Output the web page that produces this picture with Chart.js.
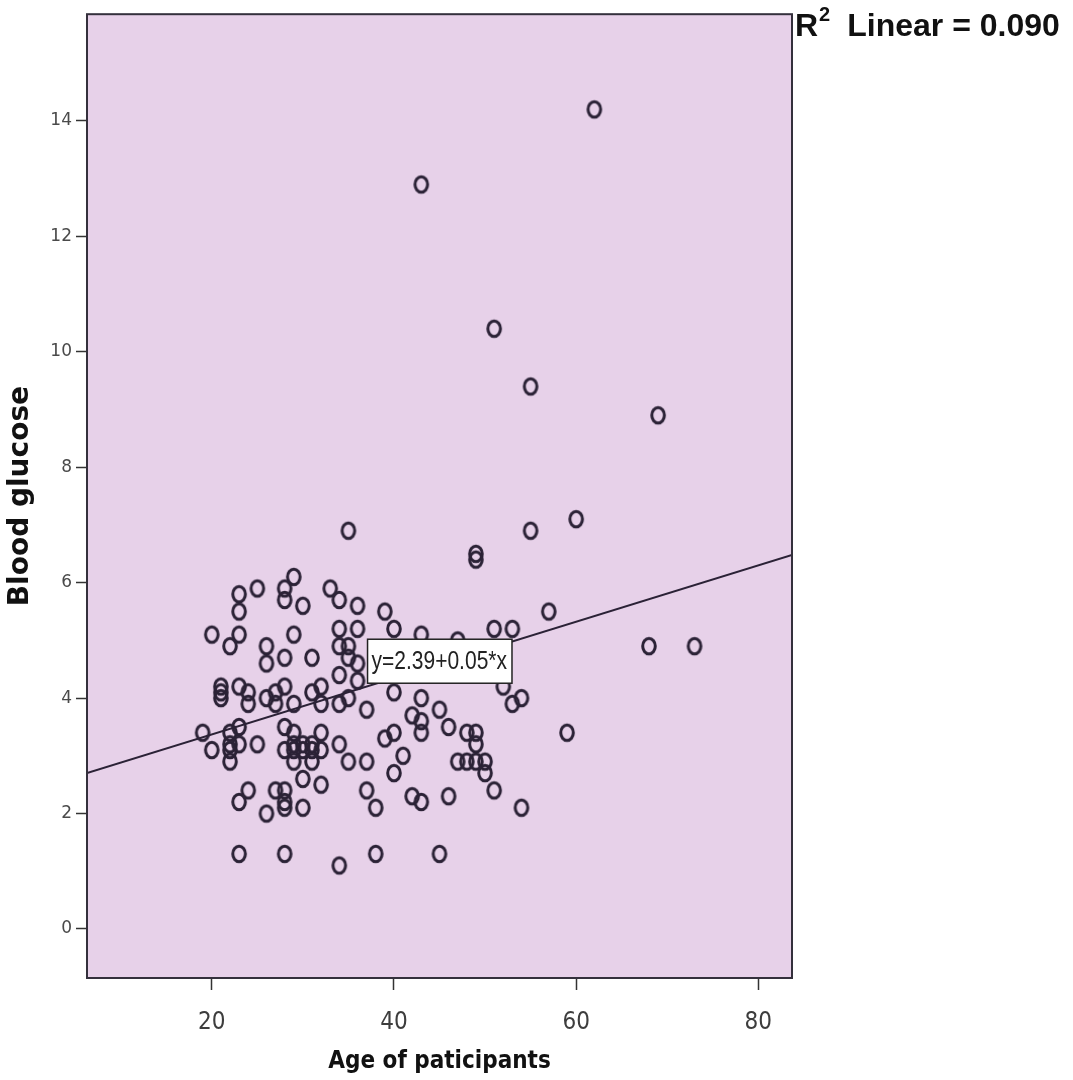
<!DOCTYPE html>
<html>
<head>
<meta charset="utf-8">
<title>Blood glucose by age</title>
<script src="https://cdn.jsdelivr.net/npm/chart.js@4.4.1/dist/chart.umd.min.js"></script>
<style>
  html, body { margin: 0; padding: 0; background: #fff; }
  #wrap { width: 1073px; height: 1080px; position: relative; }
</style>
</head>
<body>
<div id="wrap"><canvas id="scatter"></canvas></div>
<script>
// values
var ages = [
  62, 43, 51, 55, 69, 60, 35, 55, 49, 49, 57, 68, 73, 59,
  29, 28, 28, 25, 23, 23, 30, 33, 34, 36, 20, 23, 22, 29, 26, 26, 28, 31,
  34, 36, 34, 35, 35, 36, 34, 36, 39, 40, 43, 47, 51, 53, 52, 54, 53, 40,
  21, 21, 21, 23, 24, 24, 26, 27, 27, 28, 29, 31, 32, 32, 34, 35, 37,
  19, 22, 22, 22, 22, 23, 23, 20, 25, 28, 29, 28, 29, 30, 31, 29, 30, 31, 32, 32, 34,
  29, 31, 35, 37, 30, 32, 24, 23, 27, 28, 28, 28, 26, 30, 37, 38,
  23, 28, 34, 38, 45,
  45, 42, 43, 43, 39, 40, 46, 48, 49, 49, 41, 40, 47, 48, 49, 50, 50, 51, 54, 42, 43, 46, 43
];
var glucose = [
  14.2, 12.9, 10.4, 9.4, 8.9, 7.1, 6.9, 6.9, 6.5, 6.4, 5.5, 4.9, 4.9, 3.4,
  6.1, 5.9, 5.7, 5.9, 5.8, 5.5, 5.6, 5.9, 5.7, 5.6, 5.1, 5.1, 4.9, 5.1, 4.9, 4.6, 4.7, 4.7,
  5.2, 5.2, 4.9, 4.9, 4.7, 4.6, 4.4, 4.3, 5.5, 5.2, 5.1, 5.0, 5.2, 5.2, 4.2, 4.0, 3.9, 4.1,
  4.2, 4.1, 4.0, 4.2, 4.1, 3.9, 4.0, 4.1, 3.9, 4.2, 3.9, 4.1, 4.2, 3.9, 3.9, 4.0, 3.8,
  3.4, 3.4, 3.2, 3.1, 2.9, 3.5, 3.2, 3.1, 3.2, 3.5, 3.4, 3.1, 3.2, 3.2, 3.2, 3.1, 3.1, 3.1, 3.1, 3.4, 3.2,
  2.9, 2.9, 2.9, 2.9, 2.6, 2.5, 2.4, 2.2, 2.4, 2.4, 2.2, 2.1, 2.0, 2.1, 2.4, 2.1,
  1.3, 1.3, 1.1, 1.3, 1.3,
  3.8, 3.7, 3.6, 3.4, 3.3, 3.4, 3.5, 3.4, 3.4, 3.2, 3.0, 2.7, 2.9, 2.9, 2.9, 2.9, 2.7, 2.4, 2.1, 2.3, 2.2, 2.3, 4.0
];

// fit line, ends read where it meets the frame
var fitAges = [6.3, 83.7];
var fitGlucose = [2.70, 6.48];

var xTicks = [20, 40, 60, 80];
var yTicks = [0, 2, 4, 6, 8, 10, 12, 14];

var equationText = 'y=2.39+0.05*x';
var r2Text = 'Linear = 0.090';

var ink = '#2b2236';
var narrow = '"Liberation Sans Narrow", "Arial Narrow", "DejaVu Sans Condensed", sans-serif';

// SPSS style open marker, a little taller than wide
var ring = document.createElement('canvas');
ring.width = 22;
ring.height = 26;
var rc = ring.getContext('2d');
rc.strokeStyle = ink;
rc.lineWidth = 3;
rc.beginPath();
rc.ellipse(11, 13, 6.3, 7.8, 0, 0, Math.PI * 2);
rc.stroke();

function toPoints(xs, ys) {
  return xs.map(function (x, i) { return { x: x, y: ys[i] }; });
}

// lavender plot area and frame
var plotFrame = {
  id: 'plotFrame',
  beforeDatasetsDraw: function (chart) {
    var a = chart.chartArea, ctx = chart.ctx;
    ctx.save();
    ctx.fillStyle = '#e7d1e9';
    ctx.fillRect(a.left, a.top, a.right - a.left, a.bottom - a.top);
    ctx.restore();
  },
  afterDraw: function (chart) {
    var a = chart.chartArea, ctx = chart.ctx;
    ctx.save();
    ctx.strokeStyle = '#34303c';
    ctx.lineWidth = 2;
    ctx.strokeRect(a.left, a.top, a.right - a.left, a.bottom - a.top);
    ctx.restore();
  }
};

// equation box on the fit line + R2 note at the top right
var notes = {
  id: 'notes',
  afterDatasetsDraw: function (chart) {
    var ctx = chart.ctx;
    var bx = chart.scales.x.getPixelForValue(37.1);
    var by = chart.scales.y.getPixelForValue(5.02);
    ctx.save();
    ctx.font = '21px "Liberation Sans", Arial, sans-serif';
    var w = ctx.measureText(equationText).width + 9;
    ctx.fillStyle = '#fff';
    ctx.fillRect(bx, by, w, 44);
    ctx.strokeStyle = '#222';
    ctx.lineWidth = 1.5;
    ctx.strokeRect(bx, by, w, 44);
    ctx.translate(bx + 4, by + 23);
    ctx.scale(1, 1.22);
    ctx.fillStyle = '#222';
    ctx.textBaseline = 'middle';
    ctx.fillText(equationText, 0, 0);
    ctx.restore();

    var rx = chart.chartArea.right + 3;
    ctx.save();
    ctx.fillStyle = '#111';
    ctx.textBaseline = 'alphabetic';
    ctx.font = 'bold 32px "Liberation Sans", Arial, sans-serif';
    ctx.fillText('R', rx, 36);
    var rw = ctx.measureText('R').width;
    ctx.font = 'bold 20px "Liberation Sans", Arial, sans-serif';
    ctx.fillText('2', rx + rw + 1, 21);
    var sw = ctx.measureText('2').width;
    ctx.font = 'bold 32px "Liberation Sans", Arial, sans-serif';
    ctx.fillText(r2Text, rx + rw + sw + 18, 36);
    ctx.restore();
  }
};

var chart = new Chart(document.getElementById('scatter'), {
  type: 'scatter',
  data: {
    datasets: [
      {
        label: 'Blood glucose',
        data: toPoints(ages, glucose),
        pointStyle: ring,
        pointRadius: 7,
        pointHoverRadius: 7
      },
      {
        type: 'line',
        label: 'Fit',
        data: toPoints(fitAges, fitGlucose),
        borderColor: ink,
        borderWidth: 2,
        pointRadius: 0,
        fill: false
      }
    ]
  },
  options: {
    responsive: true,
    maintainAspectRatio: false,
    animation: false,
    layout: { padding: { left: 0, right: 281, top: 10, bottom: 0 } },
    plugins: {
      legend: { display: false },
      tooltip: { enabled: false }
    },
    scales: {
      x: {
        type: 'linear',
        min: 6.3,
        max: 83.7,
        afterBuildTicks: function (scale) {
          scale.ticks = xTicks.map(function (v) { return { value: v }; });
        },
        afterFit: function (scale) { scale.height = 102; },
        grid: { drawOnChartArea: false, tickLength: 12, tickColor: '#333', tickWidth: 1.5 },
        border: { display: false },
        ticks: {
          padding: 18,
          color: '#3d3d3d',
          font: { family: narrow, size: 24 }
        },
        title: {
          display: true,
          text: 'Age of paticipants',
          color: '#111',
          padding: { top: 4, bottom: 4 },
          font: { family: narrow, size: 24, weight: 'bold' }
        }
      },
      y: {
        type: 'linear',
        min: -0.85,
        max: 15.85,
        afterBuildTicks: function (scale) {
          scale.ticks = yTicks.map(function (v) { return { value: v }; });
        },
        afterFit: function (scale) { scale.width = 87; },
        grid: { drawOnChartArea: false, tickLength: 11, tickColor: '#333', tickWidth: 1.5 },
        border: { display: false },
        ticks: {
          padding: 4,
          color: '#4a4a4a',
          font: { family: '"DejaVu Sans", sans-serif', size: 17 }
        },
        title: {
          display: true,
          text: 'Blood glucose',
          color: '#111',
          padding: { top: 4, bottom: 4 },
          font: { family: '"DejaVu Sans", sans-serif', size: 28, weight: 'bold' }
        }
      }
    }
  },
  plugins: [plotFrame, notes]
});
</script>
</body>
</html>
